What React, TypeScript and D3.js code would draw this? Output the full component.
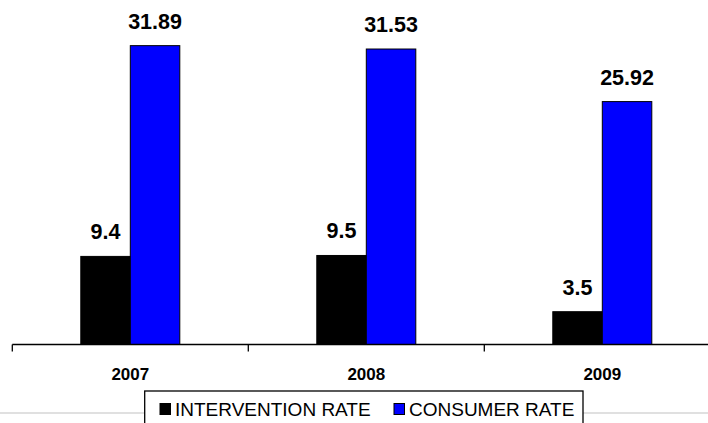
import React from "react";
import * as d3 from "d3";

const categories = ["2007", "2008", "2009"];
const seriesNames = ["INTERVENTION RATE", "CONSUMER RATE"];
const interventionRate = [9.4, 9.5, 3.5];
const consumerRate = [31.89, 31.53, 25.92];
const valueLabels = [["9.4", "9.5", "3.5"], ["31.89", "31.53", "25.92"]];
const seriesColors = ["#000000", "#0000FF"];

const W = 708;
const H = 423;
const FONT = "'Liberation Sans', Arial, sans-serif";

export default function App() {
  const baseY = 344.5;
  const x0 = d3.scaleBand<string>().domain(categories).range([12.3, 720.3]).paddingInner(0).paddingOuter(0);
  const x1 = d3.scaleBand<string>().domain(seriesNames).range([68.5, 167.5]).padding(0);
  const y = d3.scaleLinear().domain([0, 35]).range([baseY, 16.5]);
  const series = [interventionRate, consumerRate];
  const ticks = [...categories.map((c) => x0(c) as number), 720.3];

  return (
    <svg width={W} height={H} style={{ position: "absolute", left: 0, top: 0, background: "#fff" }}>
      <rect x={0} y={0} width={W} height={H} fill="#fff" />
      <line x1={0} x2={W} y1={413} y2={413} stroke="#e0e0e0" strokeWidth={2} />
      {categories.map((c, ci) =>
        seriesNames.map((s, si) => {
          const v = series[si][ci];
          const bx = (x0(c) as number) + (x1(s) as number);
          const bw = x1.bandwidth();
          const top = y(v);
          return (
            <g key={c + s}>
              <rect x={bx} y={top} width={bw} height={baseY - top} fill={seriesColors[si]} stroke="#000" strokeWidth={1} />
              <text x={bx + bw / 2} y={top - 17} textAnchor="middle" fontFamily={FONT} fontWeight="bold" fontSize={21.5} fill="#000">
                {valueLabels[si][ci]}
              </text>
            </g>
          );
        })
      )}
      <line x1={12.3} x2={W} y1={baseY} y2={baseY} stroke="#000" strokeWidth={1.3} />
      {ticks.map((t, i) => (
        <line key={i} x1={t} x2={t} y1={baseY} y2={351.5} stroke="#000" strokeWidth={1.3} />
      ))}
      {categories.map((c) => (
        <text key={c} x={(x0(c) as number) + x0.bandwidth() / 2} y={380} textAnchor="middle" fontFamily={FONT} fontWeight="bold" fontSize={17} fill="#000">
          {c}
        </text>
      ))}
      <rect x={144.7} y={391} width={438.3} height={40} fill="#fff" stroke="#000" strokeWidth={1.3} />
      {seriesNames.map((s, i) => {
        const mx = i === 0 ? 160 : 394;
        return (
          <g key={s}>
            <rect x={mx} y={403.5} width={10.5} height={11} fill={seriesColors[i]} stroke="#000" strokeWidth={1} />
            <text x={mx + 15} y={415.5} fontFamily={FONT} fontSize={19} fill="#000">
              {s}
            </text>
          </g>
        );
      })}
    </svg>
  );
}
